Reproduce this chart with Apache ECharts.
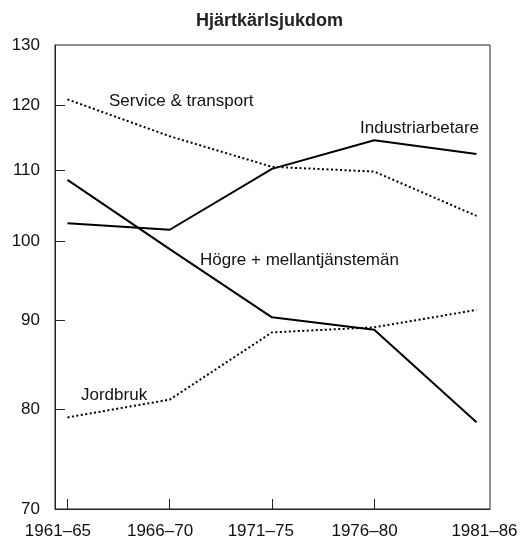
<!DOCTYPE html>
<html>
<head>
<meta charset="utf-8">
<script src="https://cdn.jsdelivr.net/npm/echarts@6/dist/echarts.min.js"></script>
<style>
  html, body { margin: 0; padding: 0; background: #fff; }
  #chart { width: 520px; height: 538px; }
</style>
</head>
<body>
<div id="chart"></div>
<script>
// perioder
const periods = ['1961–65', '1966–70', '1971–75', '1976–80', '1981–86'];
// y-axeln (logaritmisk skala)
const yTicks = [70, 80, 90, 100, 110, 120, 130];
// serier
const industri = [102.5, 101.6, 110.2, 114.5, 112.4];
const service = [120.9, 115.1, 110.5, 109.8, 103.5];
const hogre = [108.6, 99.0, 90.4, 88.9, 78.6];
const jordbruk = [79.1, 81.0, 88.6, 89.2, 91.3];

const FONT = 'Liberation Sans, Arial, Helvetica, sans-serif';
const toPts = arr => arr.map((v, i) => [i, Math.log(v)]);

const chart = echarts.init(document.getElementById('chart'));

const solid = { color: '#000', width: 2, type: 'solid' };
const dotted = { color: '#000', width: 2, type: [2, 2.5] };

const lineSeries = (name, data, style) => ({
    name,
    type: 'line',
    data: toPts(data),
    symbol: 'none',
    lineStyle: style,
    silent: true,
    animation: false
});

// etiketter vid linjerna
const seriesLabel = (text, x, y) => ({
    type: 'text',
    x, y,
    style: { text, font: '17px ' + FONT, fill: '#111', verticalAlign: 'middle' }
});

const option = {
    animation: false,
    title: {
        text: 'Hjärtkärlsjukdom',
        left: 191,
        top: 7,
        textStyle: { fontFamily: FONT, fontWeight: 'bold', fontSize: 18, color: '#222' }
    },
    grid: {
        left: 55, right: 30, top: 45, bottom: 29,
        outerBoundsMode: 'none',
        containLabel: false,
        show: true,
        borderColor: '#222',
        borderWidth: 1
    },
    xAxis: {
        type: 'value',
        min: -0.122,
        max: 4.132,
        axisLine: { onZero: false, lineStyle: { color: '#222', width: 1 } },
        axisTick: { inside: true, length: 10, customValues: [0, 1, 2, 3], lineStyle: { color: '#222' } },
        axisLabel: {
            customValues: [-0.093, 0.905, 1.89, 2.905, 4.078],
            formatter: v => periods[Math.round(v)],
            margin: 14,
            fontSize: 17,
            fontFamily: FONT,
            color: '#111'
        },
        splitLine: { show: false }
    },
    yAxis: {
        type: 'value',
        min: Math.log(70),
        max: Math.log(130),
        axisLine: { show: true, onZero: false, lineStyle: { color: '#222', width: 1 } },
        axisTick: { show: true, inside: true, length: 10, customValues: yTicks.slice(1, -1).map(Math.log), lineStyle: { color: '#222' } },
        axisLabel: {
            customValues: yTicks.map(Math.log),
            formatter: v => String(Math.round(Math.exp(v))),
            margin: 15,
            fontSize: 17,
            fontFamily: FONT,
            color: '#111',
            padding: [0, 0, 6, 0]
        },
        splitLine: { show: false }
    },
    graphic: [
        seriesLabel('Service & transport', 109, 101),
        seriesLabel('Industriarbetare', 360, 128),
        seriesLabel('Högre + mellantjänstemän', 200, 260),
        seriesLabel('Jordbruk', 81, 395)
    ],
    series: [
        lineSeries('Service & transport', service, dotted),
        lineSeries('Industriarbetare', industri, solid),
        lineSeries('Högre + mellantjänstemän', hogre, solid),
        lineSeries('Jordbruk', jordbruk, dotted)
    ]
};

chart.setOption(option);
</script>
</body>
</html>
